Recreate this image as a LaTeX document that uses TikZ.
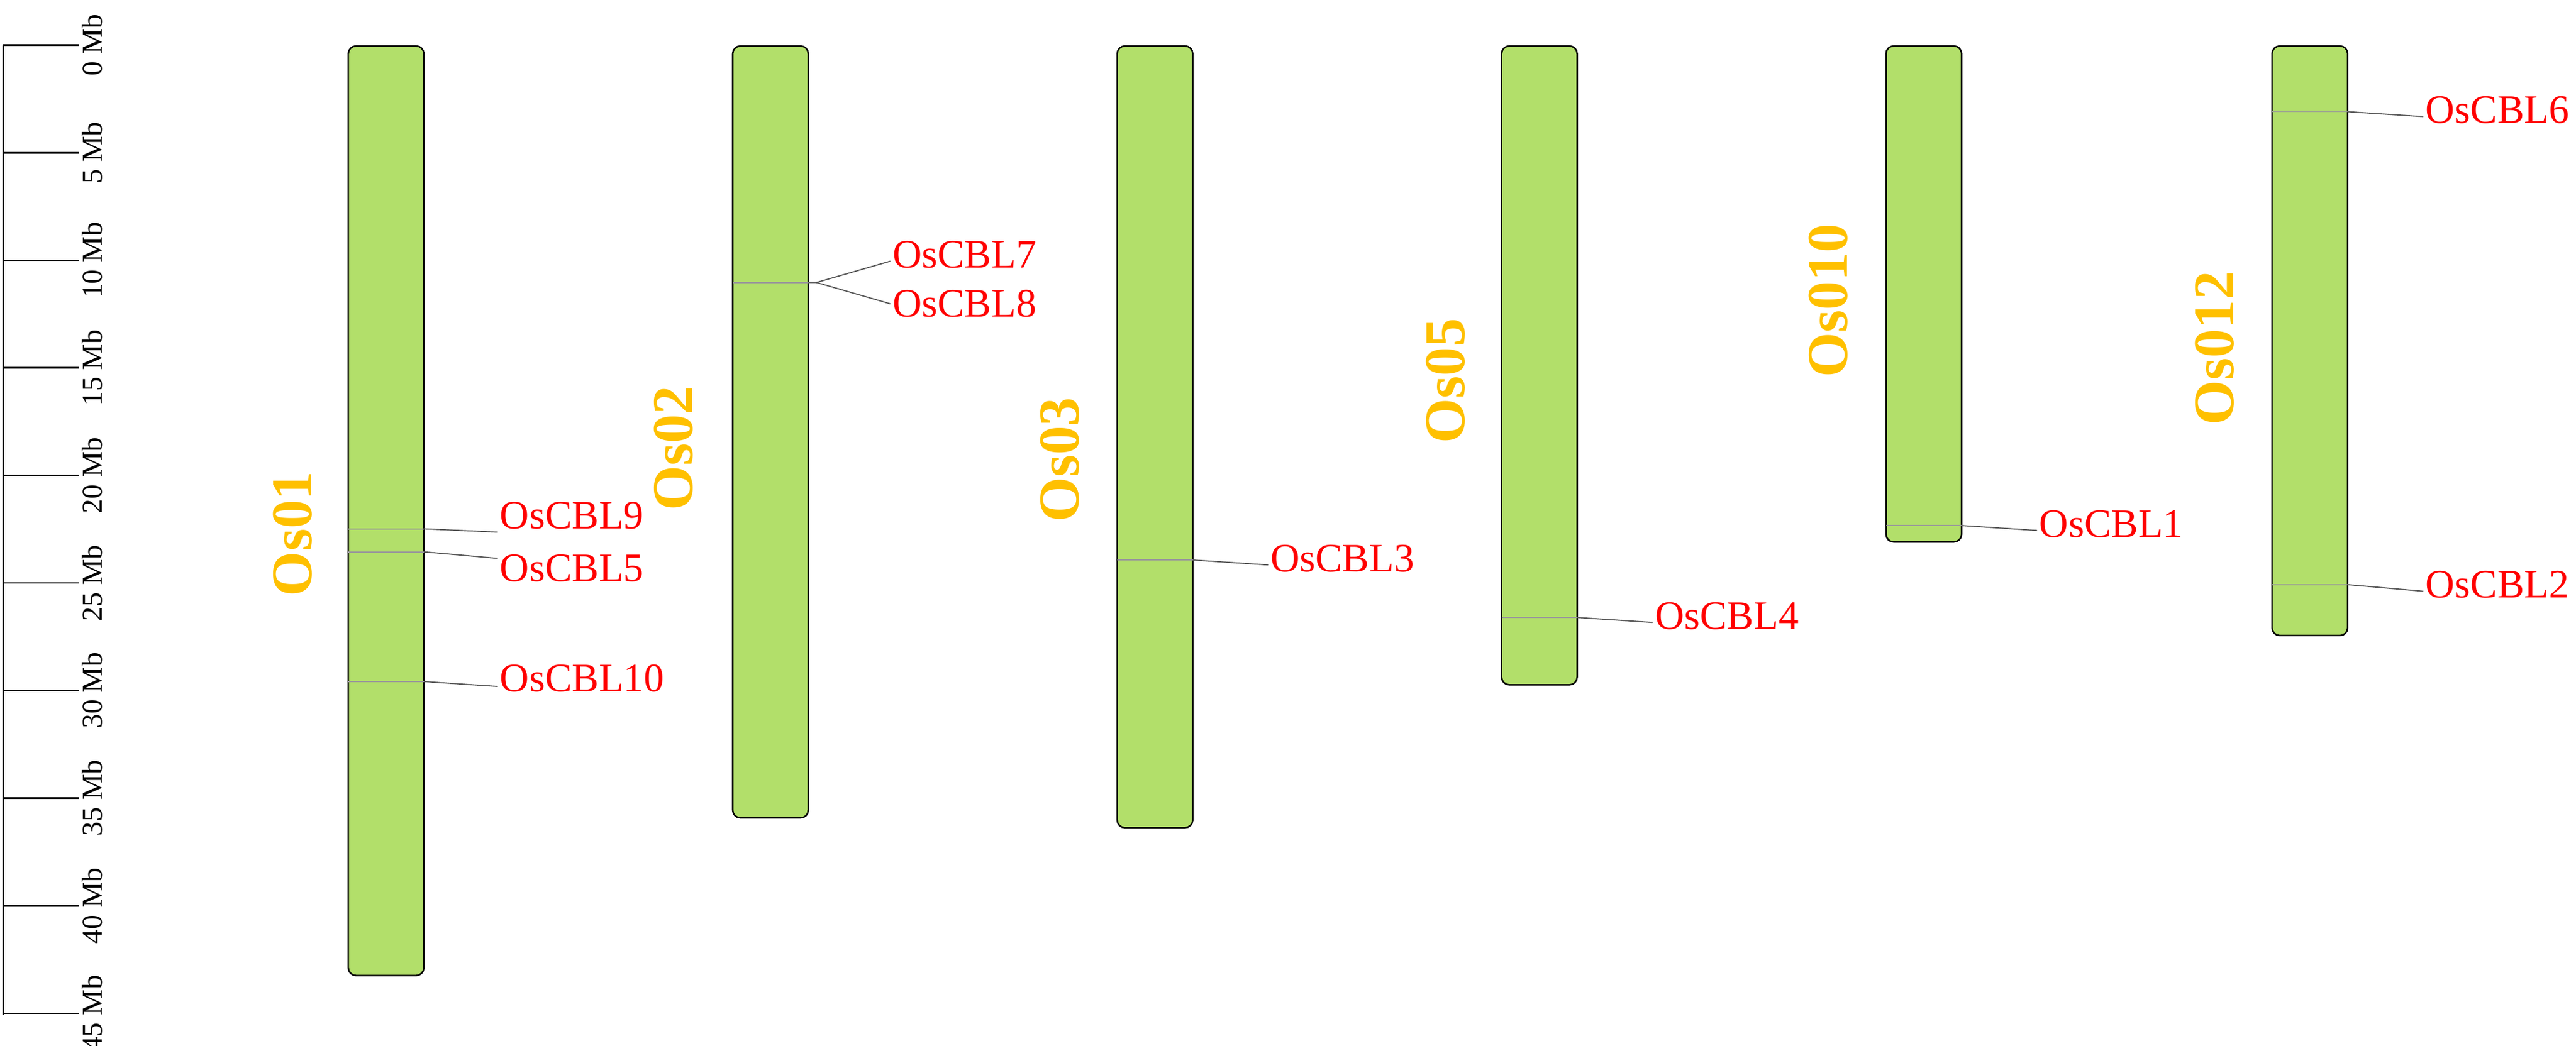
\documentclass[tikz,border=0pt]{standalone}
\usepackage{fontspec}
\setmainfont{Liberation Serif}
\begin{document}
\begin{tikzpicture}[x=0.03cm,y=-0.03cm,
  chrom/.style={draw=black,line width=0.8pt,fill=chromgreen,rounded corners=4pt},
  clab/.style={text=chromgold,font=\fontsize{30}{30}\selectfont\bfseries,rotate=90},
  glab/.style={text=red,font=\fontsize{21}{21}\selectfont,anchor=west,inner sep=1pt},
  conn/.style={draw=gray!70!black,line width=0.6pt},
  geneline/.style={draw=gray!80,line width=0.6pt},
  tlab/.style={font=\fontsize{15}{15}\selectfont,rotate=90,inner sep=0pt}]
\definecolor{chromgreen}{HTML}{B2DF6A}
\definecolor{chromgold}{HTML}{FFC000}
\useasboundingbox (0,0) rectangle (1568,636.6);
% axis
\draw[line width=0.8pt] (2,27.5) -- (2,618);
\foreach \i in {0,5,...,45}{
  \draw[line width=0.8pt] (2,{27.5+13.1*\i}) -- (48,{27.5+13.1*\i});
  \node[tlab] (t\i) at (56,{27.5+13.1*\i}) {\i\ Mb};
}
% chromosomes
\draw[chrom] (212,28) rectangle (258,594);
\draw[chrom] (446,28) rectangle (492,498);
\draw[chrom] (680,28) rectangle (726,504);
\draw[chrom] (914,28) rectangle (960,417);
\draw[chrom] (1148,28) rectangle (1194,330);
\draw[chrom] (1383,28) rectangle (1429,387);
\node[clab] (c1) at (178,325) {Os01};
\node[clab] (c2) at (410,273) {Os02};
\node[clab] (c3) at (645,280) {Os03};
\node[clab] (c5) at (880,232) {Os05};
\node[clab] (c10) at (1113,183) {Os010};
\node[clab] (c12) at (1348,212) {Os012};
% Os01
\draw[geneline] (212,322) -- (258,322); \draw[geneline] (212,336) -- (258,336); \draw[geneline] (212,415) -- (258,415);
\node[glab] (g9) at (303,314) {OsCBL9};
\node[glab] (g5) at (303,346) {OsCBL5};
\node[glab] (g10) at (303,413) {OsCBL10};
\draw[conn] (258,322) -- (g9.west|-0,324);
\draw[conn] (258,336) -- (g5.west|-0,340);
\draw[conn] (258,415) -- (g10.west|-0,418);
% Os02
\draw[geneline] (446,172) -- (492,172);
\coordinate (b2) at (497,172);
\node[glab] (g7) at (542,155) {OsCBL7};
\node[glab] (g8) at (542,185) {OsCBL8};
\draw[conn] (492,172) -- (b2) -- (g7.west|-0,159);
\draw[conn] (b2) -- (g8.west|-0,185);
% Os03
\draw[geneline] (680,341) -- (726,341);
\node[glab] (g3) at (772,340) {OsCBL3};
\draw[conn] (726,341) -- (g3.west|-0,344);
% Os05
\draw[geneline] (914,376) -- (960,376);
\node[glab] (g4) at (1006,375) {OsCBL4};
\draw[conn] (960,376) -- (g4.west|-0,379);
% Os010
\draw[geneline] (1148,320) -- (1194,320);
\node[glab] (g1) at (1240,319) {OsCBL1};
\draw[conn] (1194,320) -- (g1.west|-0,323);
% Os012
\draw[geneline] (1383,68) -- (1429,68); \draw[geneline] (1383,356) -- (1429,356);
\node[glab] (g6) at (1475,67) {OsCBL6};
\node[glab] (g2) at (1475,356) {OsCBL2};
\draw[conn] (1429,68) -- (g6.west|-0,71);
\draw[conn] (1429,356) -- (g2.west|-0,360);
\end{tikzpicture}
\end{document}
